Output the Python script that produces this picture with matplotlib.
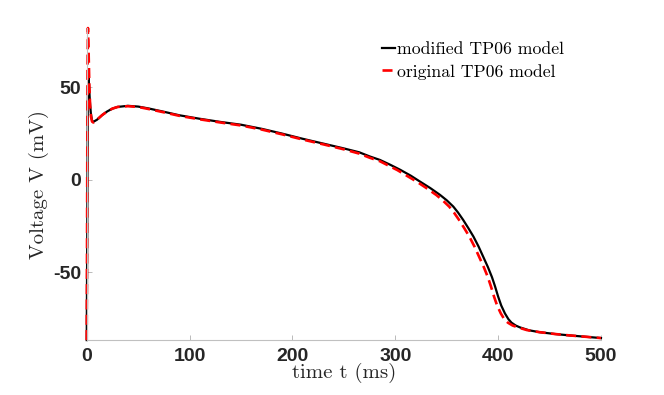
import matplotlib
matplotlib.use("Agg")
import matplotlib.pyplot as plt

# === action potential traces ===
t_mod = [0, 0.5, 1.0, 1.5, 2.2, 3.0, 4.0, 5.0, 6.0, 10, 15, 20, 25, 30, 40, 50, 60,
         75, 90, 110, 130, 150, 170, 190, 210, 230, 250, 265, 275, 285, 295, 305,
         315, 324, 334, 343.5, 350, 356.4, 361, 366, 371, 376, 381, 385.5, 390, 394,
         397, 400, 403, 406.6, 410, 413, 417, 421, 430, 440, 455, 470, 485, 500]
v_mod = [-86.5, -30, 40, 56.5, 52, 43, 36, 32.5, 31.2, 32.5, 35, 37, 38.5, 39.4, 40, 39.6, 38.6,
         36.8, 34.9, 33.0, 31.3, 29.8, 27.6, 25.0, 22.2, 19.6, 17.0, 14.9, 12.7, 10.8, 8.2, 5.4,
         2.3, -0.9, -4.4, -8.1, -11.0, -14.4, -17.6, -21.6, -26.0, -30.6, -36.0, -41.5, -47.0, -52.5,
         -57.5, -63.0, -67.8, -72.1, -75.2, -77.1, -78.6, -79.6, -81.2, -82.2, -83.2, -84.0, -84.7, -85.4]

t_orig = [0, 0.4, 0.8, 1.2, 1.8, 2.5, 3.3, 4.2, 5.2, 6.5, 10, 15, 20, 25, 30, 40, 50, 60,
          75, 90, 110, 130, 150, 170, 190, 210, 230, 250, 265, 275, 285, 302, 321, 330,
          340, 346, 352.4, 357, 362, 367, 372, 377, 381.5, 386, 390, 393, 396, 399,
          402.6, 406, 409.5, 414, 419, 428, 440, 455, 470, 485, 500]
v_orig = [-86.5, -20, 60, 82, 70, 52, 40, 34, 31.5, 31, 32.5, 35, 37, 38.5, 39.4, 39.8, 39.4, 38.3,
          36.5, 34.6, 32.7, 31.0, 29.4, 27.2, 24.6, 21.8, 19.2, 16.5, 14.2, 12.0, 10.1, 5.3, -1.0, -4.3,
          -8.2, -11.0, -14.4, -17.6, -21.6, -26.0, -30.6, -36.0, -41.5, -47.0, -52.5, -57.5, -63.0, -67.8,
          -72.1, -75.2, -77.1, -78.6, -79.6, -81.1, -82.2, -83.2, -84.0, -84.7, -85.4]

labels = ["modified TP06 model", "original TP06 model"]
xticks = [0, 100, 200, 300, 400, 500]
yticks = [-50, 0, 50]

plt.rcParams['axes.unicode_minus'] = False

fig = plt.figure(figsize=(6.64, 3.95), dpi=100)
ax = fig.add_axes([0.1306, 0.139, 0.7745, 0.790])

ax.plot(t_mod, v_mod, color='black', lw=1.6, label=labels[0], clip_on=False)
ax.plot(t_orig, v_orig, color='#ff0000', lw=1.9, linestyle=(0, (3.8, 2.0)),
        label=labels[1], clip_on=False)

ax.set_xlim(0, 500)
ax.set_ylim(min(v_mod), max(v_orig))
ax.set_xticks(xticks)
ax.set_yticks(yticks)

for side in ['top', 'right']:
    ax.spines[side].set_visible(False)
for side in ['left', 'bottom']:
    ax.spines[side].set_color('#c0c0c0')
    ax.spines[side].set_linewidth(0.8)

ax.tick_params(direction='in', length=3.6, width=0.6, color='#b0b0b0',
               labelcolor='#262626', labelsize=14)
ax.tick_params(axis='x', pad=6)
ax.tick_params(axis='y', pad=4)
for lab in ax.get_xticklabels() + ax.get_yticklabels():
    lab.set_fontfamily('Liberation Sans')
    lab.set_fontweight('bold')

ax.set_xlabel('time t (ms)', fontfamily='cmr10', fontsize=15, color='#262626', labelpad=-2)
ax.set_ylabel('Voltage V (mV)', fontfamily='cmr10', fontsize=15, color='#262626', labelpad=3)

leg = ax.legend(loc='upper left', bbox_to_anchor=(382 / 664, 1 - 42 / 395),
                bbox_transform=fig.transFigure, frameon=False, borderpad=0,
                borderaxespad=0, handlelength=0.75, handletextpad=0.1,
                labelspacing=0.36, prop={'family': 'cmr10', 'size': 12.75})

fig.savefig('out.png', dpi=100)
